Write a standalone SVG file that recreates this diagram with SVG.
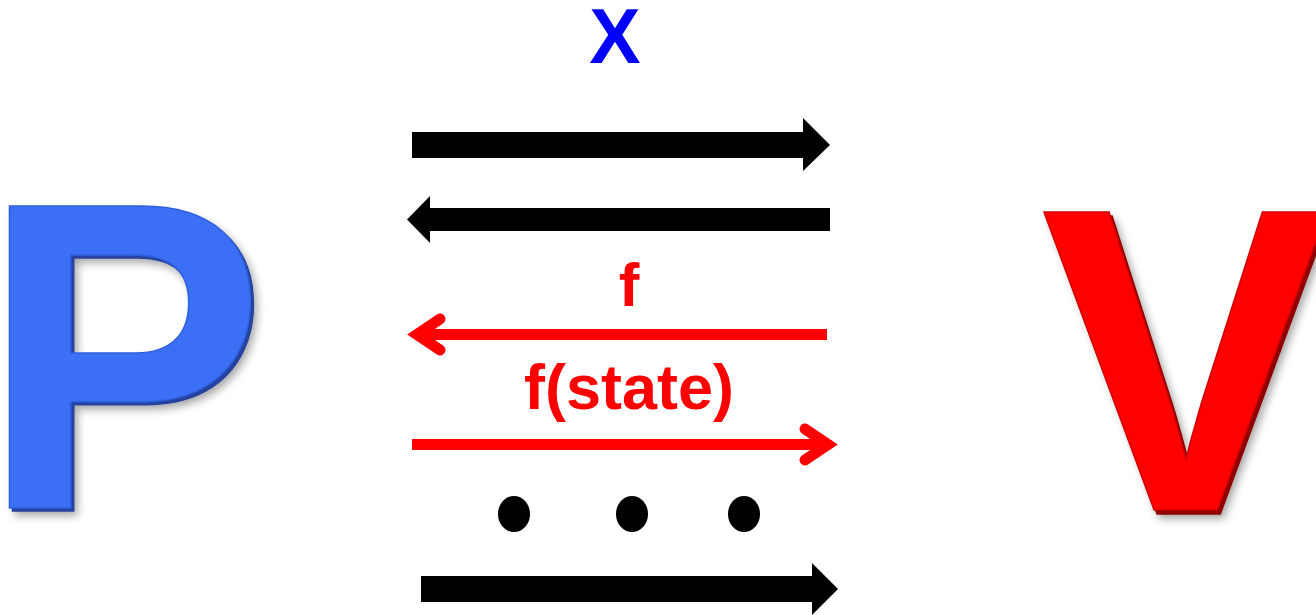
<svg xmlns="http://www.w3.org/2000/svg" width="1316" height="615" viewBox="0 0 1316 615">
<style>
.lbl{font-family:"Liberation Sans",Arial,sans-serif;font-weight:bold;text-anchor:middle}
.big{font-family:"Liberation Sans",Arial,sans-serif;font-weight:bold}
.blk{fill:#000}
.red{stroke:#ff0000;stroke-width:11;fill:none}
.head{stroke-linecap:round;stroke-linejoin:miter;stroke-miterlimit:10}
</style>
<defs>
<filter id="bevP" x="-10%" y="-10%" width="125%" height="125%">
<feOffset in="SourceAlpha" dx="3" dy="3" result="o"/>
<feFlood flood-color="#25429e"/>
<feComposite in2="o" operator="in" result="dark"/>
<feGaussianBlur in="o" stdDeviation="4" result="b"/>
<feOffset in="b" dx="3" dy="4" result="bo"/>
<feFlood flood-color="#000" flood-opacity="0.35"/>
<feComposite in2="bo" operator="in" result="shadow"/>
<feMerge><feMergeNode in="shadow"/><feMergeNode in="dark"/><feMergeNode in="SourceGraphic"/></feMerge>
</filter>
<filter id="bevV" x="-10%" y="-10%" width="125%" height="125%">
<feOffset in="SourceAlpha" dx="3" dy="4" result="o"/>
<feFlood flood-color="#8e0000"/>
<feComposite in2="o" operator="in" result="dark"/>
<feGaussianBlur in="o" stdDeviation="4" result="b"/>
<feOffset in="b" dx="3" dy="4" result="bo"/>
<feFlood flood-color="#000" flood-opacity="0.35"/>
<feComposite in2="bo" operator="in" result="shadow"/>
<feMerge><feMergeNode in="shadow"/><feMergeNode in="dark"/><feMergeNode in="SourceGraphic"/></feMerge>
</filter>
</defs>
<rect width="1316" height="615" fill="#fff"/>
<g id="node-P" filter="url(#bevP)">
<text class="big" x="-20" y="508" font-size="439" fill="#3a70f6" stroke="#2f5fdc" stroke-width="1.5" transform="matrix(0.97 0 0 1 0.35 0)">P</text>
</g>
<g id="node-V" filter="url(#bevV)">
<text class="big" x="1041" y="510" font-size="433" fill="#ff0000" stroke="#d00000" stroke-width="1.5">V</text>
</g>
<g id="labels">
<text class="lbl" x="615" y="63" font-size="77" fill="#0000ff">X</text>
<text class="lbl" x="629" y="305.5" font-size="62" fill="#ff0000">f</text>
<text class="lbl" x="629" y="409" font-size="63" fill="#ff0000">f(state)</text>
</g>
<g id="connectors">
<polygon class="blk" points="412,132 803,132 803,118 830,145 803,171 803,158 412,158"/>
<polygon class="blk" points="830,208 430,208 430,196 407,219.5 430,243 430,231 830,231"/>
<line class="red" x1="827" y1="334.5" x2="418" y2="334.5"/>
<polyline class="red head" points="440,319 417,334.5 440,350"/>
<line class="red" x1="412" y1="444.5" x2="826" y2="444.5"/>
<polyline class="red head" points="805,429 828,444.5 805,460"/>
<polygon class="blk" points="421,576 812,576 812,563 838,589 812,615 812,602 421,602"/>
</g>
<g id="dots">
<ellipse class="blk" cx="514" cy="514" rx="16" ry="18"/>
<ellipse class="blk" cx="632" cy="514" rx="16" ry="18"/>
<ellipse class="blk" cx="744" cy="514" rx="16" ry="18"/>
</g>
</svg>
